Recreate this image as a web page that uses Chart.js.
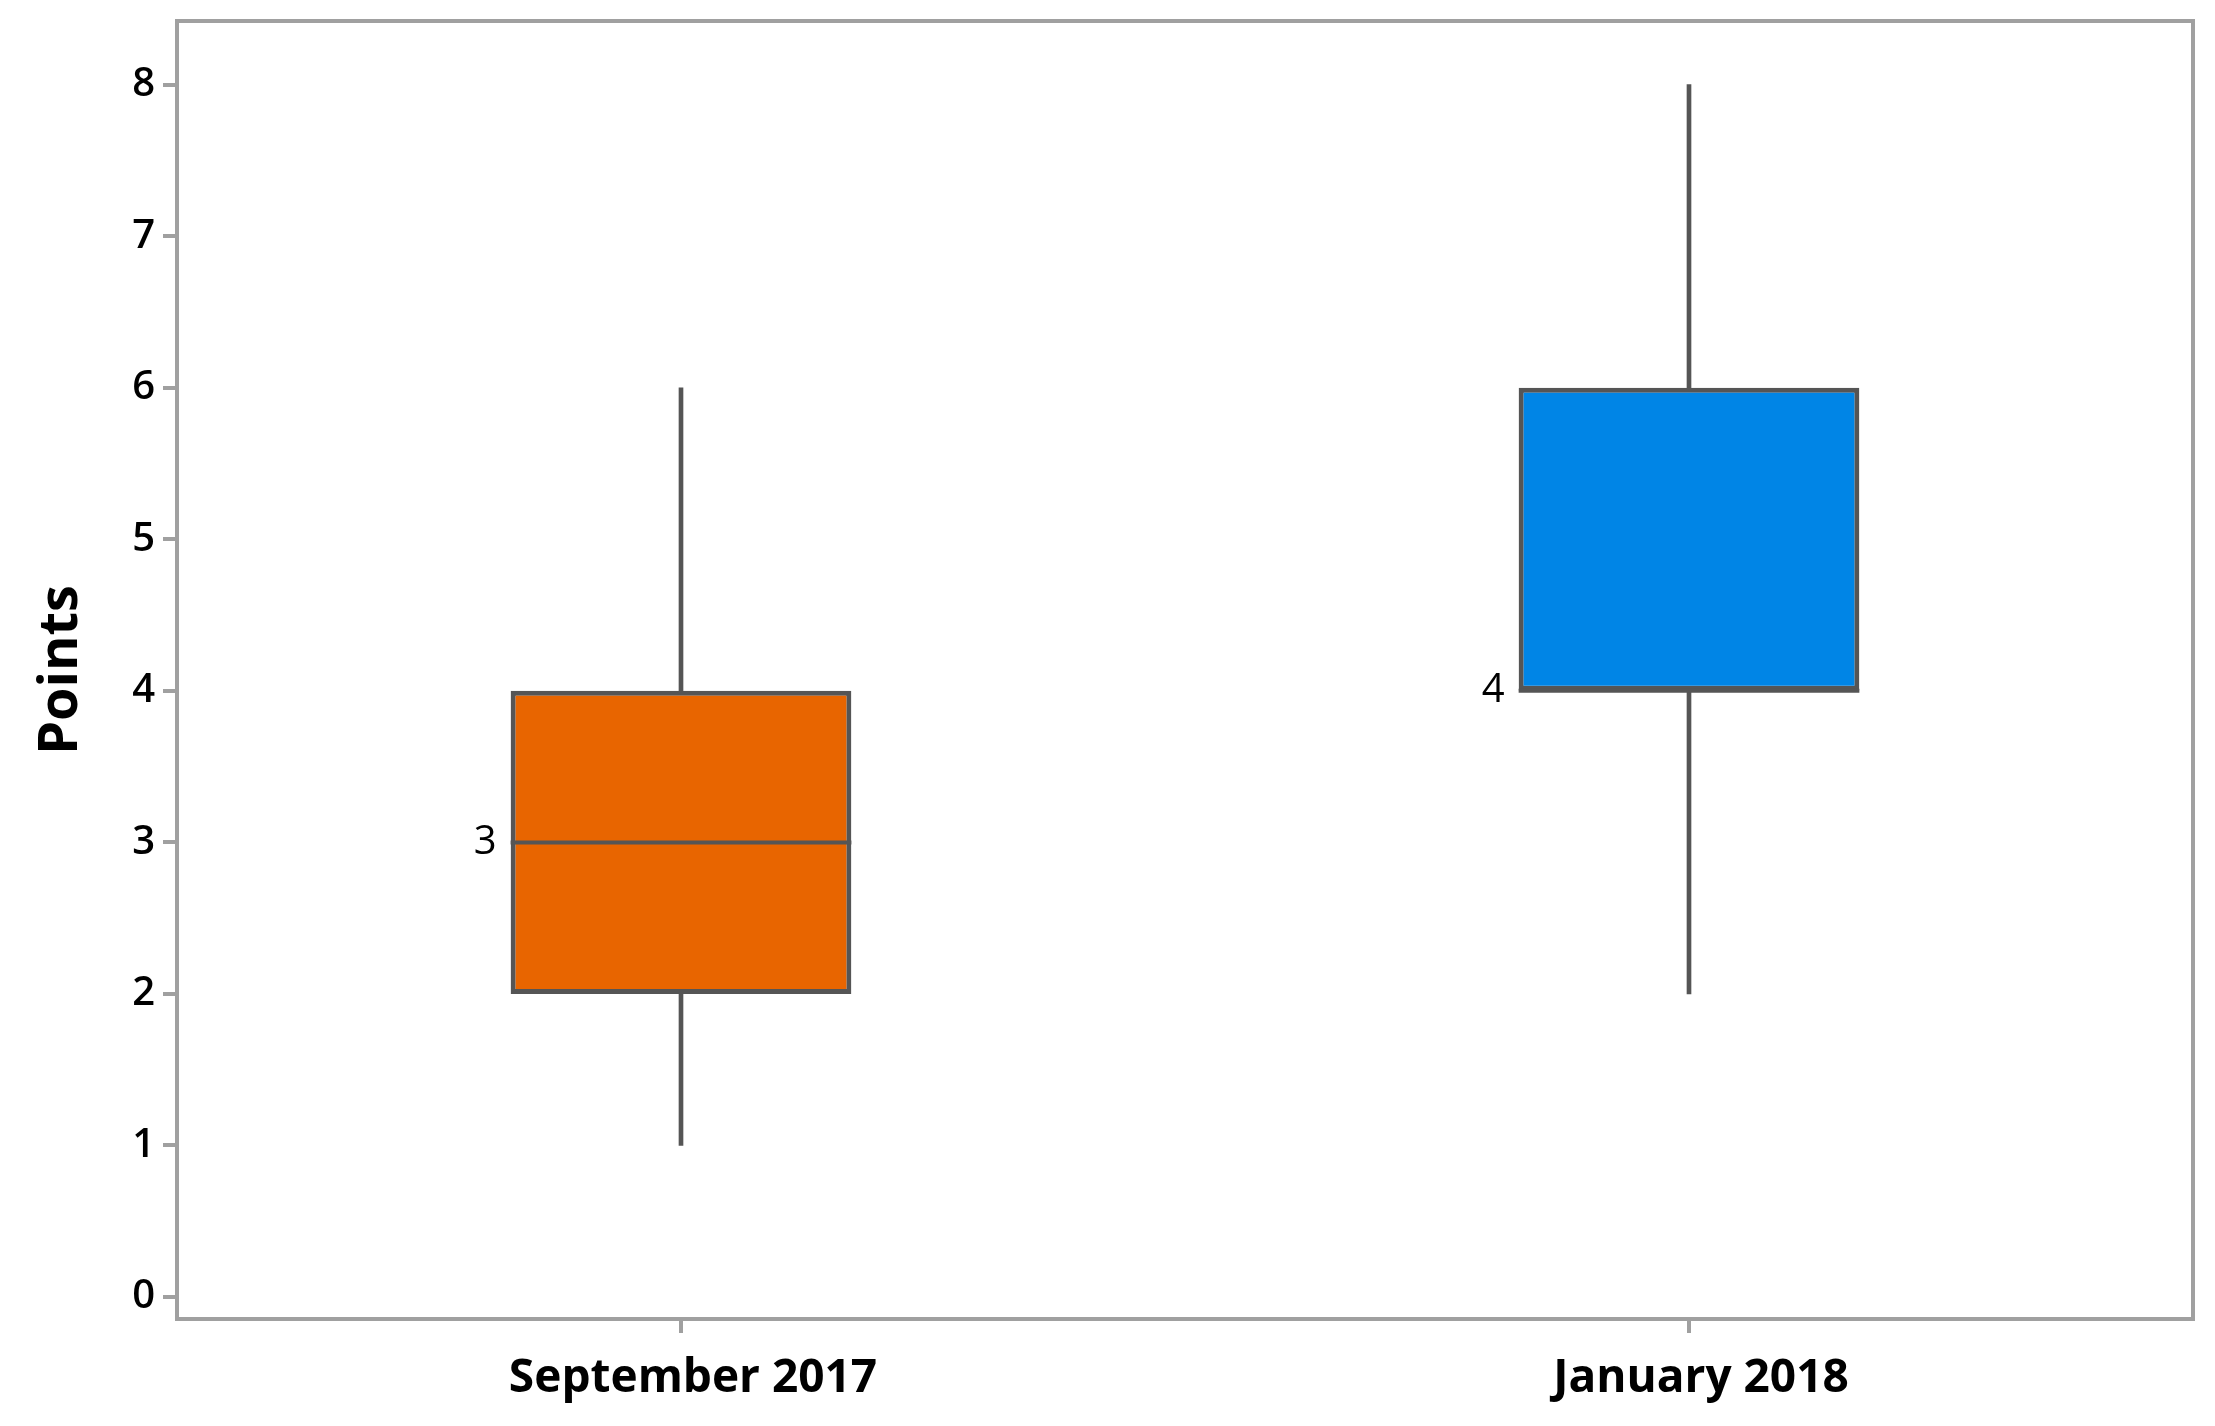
<!DOCTYPE html>
<html>
<head>
<meta charset="utf-8">
<script src="https://cdn.jsdelivr.net/npm/chart.js@4.4.1/dist/chart.umd.min.js"></script>
<style>
  html, body { margin: 0; padding: 0; background: #ffffff; }
  #wrap { width: 2215px; height: 1426px; position: relative; }
</style>
</head>
<body>
<div id="wrap"><canvas id="grafico"></canvas></div>
<script>
// dados do box plot
const categorias = ['September 2017', 'January 2018'];
const minimos = [1, 2];
const quartil1 = [2, 4];
const medianas = [3, 4];
const quartil3 = [4, 6];
const maximos = [6, 8];
const coresCaixa = ['#E86500', '#0085E6'];
const ticksY = [0, 1, 2, 3, 4, 5, 6, 7, 8];

const corContorno = '#555555';
const corEixo = '#a0a0a0';

// moldura completa e linha da mediana com rotulo
const pluginMediana = {
    id: 'mediana',
    afterDatasetsDraw(chart) {
        const ctx = chart.ctx;
        const meta = chart.getDatasetMeta(0);
        const y = chart.scales.y;
        ctx.save();
        meta.data.forEach((barra, i) => {
            const py = y.getPixelForValue(medianas[i]);
            const esq = barra.x - barra.width / 2;
            const dir = barra.x + barra.width / 2;
            ctx.strokeStyle = corContorno;
            ctx.lineWidth = 4;
            ctx.beginPath();
            ctx.moveTo(esq, py);
            ctx.lineTo(dir, py);
            ctx.stroke();
            ctx.fillStyle = '#000';
            ctx.font = '40px "Open Sans"';
            ctx.textAlign = 'right';
            ctx.textBaseline = 'middle';
            ctx.fillText(String(medianas[i]), esq - 14, py);
        });
        const a = chart.chartArea;
        ctx.strokeStyle = corEixo;
        ctx.lineWidth = 4;
        ctx.strokeRect(a.left, a.top, a.right - a.left, a.bottom - a.top);
        ctx.restore();
    }
};

document.addEventListener('DOMContentLoaded', function() {
    const ctx = document.getElementById('grafico').getContext('2d');

    new Chart(ctx, {
        type: 'bar',
        data: {
            labels: categorias,
            datasets: [
                {
                    label: 'Caixa',
                    data: quartil1.map((q, i) => [q, quartil3[i]]),
                    backgroundColor: coresCaixa,
                    borderColor: corContorno,
                    borderWidth: 5,
                    borderSkipped: false,
                    grouped: false,
                    categoryPercentage: 1,
                    barPercentage: 0.338
                },
                {
                    label: 'Bigode inferior',
                    data: minimos.map((m, i) => [m, quartil1[i]]),
                    backgroundColor: corContorno,
                    borderWidth: 0,
                    grouped: false,
                    barThickness: 4
                },
                {
                    label: 'Bigode superior',
                    data: quartil3.map((q, i) => [q, maximos[i]]),
                    backgroundColor: corContorno,
                    borderWidth: 0,
                    grouped: false,
                    barThickness: 4
                }
            ]
        },
        options: {
            responsive: true,
            maintainAspectRatio: false,
            animation: false,
            layout: { padding: { top: 21, right: 22, left: 0, bottom: 0 } },
            plugins: {
                legend: { display: false },
                tooltip: { enabled: false }
            },
            scales: {
                x: {
                    grid: {
                        display: true,
                        offset: false,
                        drawOnChartArea: false,
                        drawTicks: true,
                        tickLength: 14,
                        color: corEixo,
                        lineWidth: 4
                    },
                    border: { display: true, color: corEixo, width: 4 },
                    ticks: {
                        color: '#000',
                        padding: 18,
                        labelOffset: 12,
                        font: { family: 'Open Sans', size: 46, weight: 'bold' }
                    },
                    afterFit(escala) { escala.height = 107; }
                },
                y: {
                    min: -0.145,
                    max: 8.42,
                    afterBuildTicks(escala) {
                        escala.ticks = ticksY.map(v => ({ value: v }));
                    },
                    grid: {
                        display: true,
                        drawOnChartArea: false,
                        drawTicks: true,
                        tickLength: 14,
                        color: corEixo,
                        lineWidth: 4
                    },
                    border: { display: true, color: corEixo, width: 4 },
                    ticks: {
                        color: '#000',
                        padding: 8,
                        font: { family: 'Open Sans', size: 40, weight: '600' }
                    },
                    title: {
                        display: true,
                        text: 'Points',
                        color: '#000',
                        padding: { top: 29, bottom: 0 },
                        font: { family: 'Open Sans', size: 54, weight: 'bold' }
                    },
                    afterFit(escala) {
                        escala.width = 177;
                        escala.paddingTop = 0;
                        escala.paddingBottom = 0;
                    }
                }
            }
        },
        plugins: [pluginMediana]
    });
});
</script>
</body>
</html>
